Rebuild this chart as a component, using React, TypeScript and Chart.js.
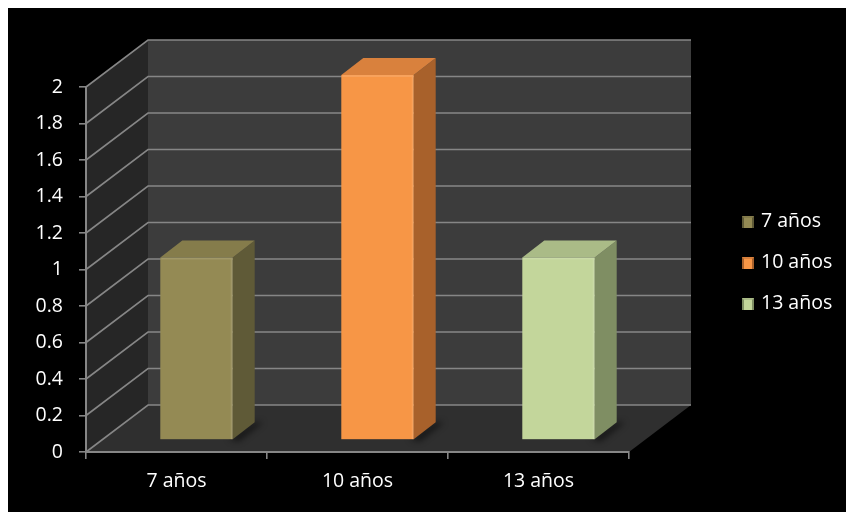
import React, { useEffect, useRef } from 'react';
import { Chart, registerables } from 'chart.js';

Chart.register(...registerables);

// Data
const categories = ['7 años', '10 años', '13 años'];
const values = [1, 2, 1];
const yTickLabels = ['0', '0.2', '0.4', '0.6', '0.8', '1', '1.2', '1.4', '1.6', '1.8', '2'];
const yMax = 2;
const yStep = 0.2;

// Bar face colours (front, top, side)
const frontColors = ['#948a54', '#f79646', '#c3d69b'];
const topColors = ['#857c4b', '#d9813d', '#aabb87'];
const sideColors = ['#5f5a37', '#a8612b', '#7f8e63'];

const FONT = '"Open Sans", "Noto Sans", sans-serif';
const FONT_SIZE = 19.5;
const GRID = '#868686';

// Oblique projection of the box around the plot
const WALL_DX = 62;
const WALL_DY = 47;
// Offset of the bar row into the box, and bar depth
const BAR_DX = 20;
const BAR_DY = 12;
const BAR_DEPTH_X = 22;
const BAR_DEPTH_Y = 17;

function poly(ctx: CanvasRenderingContext2D, pts: number[][], fill: string) {
  ctx.beginPath();
  ctx.moveTo(pts[0][0], pts[0][1]);
  for (let i = 1; i < pts.length; i++) ctx.lineTo(pts[i][0], pts[i][1]);
  ctx.closePath();
  ctx.fillStyle = fill;
  ctx.fill();
}

const boxWalls = {
  id: 'boxWalls',
  beforeDraw(chart: any) {
    const { ctx, chartArea: a, scales } = chart;
    const y = scales.y;
    ctx.save();
    ctx.fillStyle = '#000000';
    ctx.fillRect(0, 0, chart.width, chart.height);

    const top = y.getPixelForValue(yMax);
    const bottom = y.getPixelForValue(0);

    // side wall
    poly(ctx, [[a.left, top], [a.left + WALL_DX, top - WALL_DY], [a.left + WALL_DX, bottom - WALL_DY], [a.left, bottom]], '#262626');
    // back wall
    ctx.fillStyle = '#3c3c3c';
    ctx.fillRect(a.left + WALL_DX, top - WALL_DY, a.right - a.left, bottom - top);
    // floor
    poly(ctx, [[a.left, bottom], [a.right, bottom], [a.right + WALL_DX, bottom - WALL_DY], [a.left + WALL_DX, bottom - WALL_DY]], '#2f2f2f');

    // gridlines on side and back walls
    ctx.strokeStyle = GRID;
    ctx.lineWidth = 1.6;
    y.ticks.forEach((t: any) => {
      const py = y.getPixelForValue(t.value);
      ctx.beginPath();
      ctx.moveTo(a.left, py);
      ctx.lineTo(a.left + WALL_DX, py - WALL_DY);
      ctx.lineTo(a.right + WALL_DX, py - WALL_DY);
      ctx.stroke();
    });
    ctx.restore();
  },
};

const boxBars = {
  id: 'boxBars',
  afterDatasetsDraw(chart: any) {
    const { ctx } = chart;
    const meta = chart.getDatasetMeta(0);
    ctx.save();
    meta.data.forEach((el: any, i: number) => {
      const p = el.getProps(['x', 'y', 'base', 'width'], true);
      const l = p.x - p.width / 2 + BAR_DX;
      const r = p.x + p.width / 2 + BAR_DX;
      const t = p.y - BAR_DY;
      const b = p.base - BAR_DY;

      // soft shadow on the floor
      ctx.save();
      ctx.filter = 'blur(3px)';
      poly(ctx, [[r - 4, b], [r + BAR_DEPTH_X, b - BAR_DEPTH_Y], [r + BAR_DEPTH_X + 8, b - BAR_DEPTH_Y], [r + 6, b + 2]], 'rgba(0,0,0,0.55)');
      ctx.restore();

      // side face
      poly(ctx, [[r, t], [r + BAR_DEPTH_X, t - BAR_DEPTH_Y], [r + BAR_DEPTH_X, b - BAR_DEPTH_Y], [r, b]], sideColors[i]);
      // top face
      poly(ctx, [[l, t], [l + BAR_DEPTH_X, t - BAR_DEPTH_Y], [r + BAR_DEPTH_X, t - BAR_DEPTH_Y], [r, t]], topColors[i]);
      // front face
      ctx.fillStyle = frontColors[i];
      ctx.fillRect(l, t, r - l, b - t);
      // faint bevel highlight along the front edges
      ctx.strokeStyle = 'rgba(255,255,255,0.12)';
      ctx.lineWidth = 2;
      ctx.beginPath();
      ctx.moveTo(l + 1, t + 1);
      ctx.lineTo(r - 1, t + 1);
      ctx.lineTo(r - 1, b);
      ctx.stroke();
    });
    ctx.restore();
  },
};

const sideLegend = {
  id: 'sideLegend',
  afterDraw(chart: any) {
    const { ctx } = chart;
    const labels: string[] = chart.data.labels;
    const x = 734;
    const y0 = 214;
    const gap = 41;
    ctx.save();
    labels.forEach((lab, i) => {
      const cy = y0 + i * gap;
      // marker
      ctx.fillStyle = sideColors[i];
      ctx.fillRect(x, cy - 6, 12, 12);
      poly(ctx, [[x, cy - 6], [x + 12, cy - 6], [x + 10, cy - 4], [x + 2, cy - 4]], topColors[i]);
      ctx.fillStyle = frontColors[i];
      ctx.fillRect(x + 2, cy - 4, 8, 10);
      // text
      ctx.fillStyle = '#ffffff';
      ctx.font = `${FONT_SIZE}px ${FONT}`;
      ctx.textAlign = 'left';
      ctx.textBaseline = 'middle';
      ctx.fillText(lab, x + 19, cy - 1);
    });
    ctx.restore();
  },
};

export default function App() {
  const ref = useRef<HTMLCanvasElement | null>(null);

  useEffect(() => {
    const canvas = ref.current;
    if (!canvas) return;
    const chart = new Chart(canvas, {
      type: 'bar',
      data: {
        labels: categories,
        datasets: [
          {
            label: 'años',
            data: values,
            backgroundColor: 'rgba(0,0,0,0)',
            borderWidth: 0,
            barPercentage: 0.8,
            categoryPercentage: 0.5,
          },
        ],
      },
      options: {
        responsive: false,
        animation: false,
        devicePixelRatio: 1,
        layout: { padding: { top: 79, right: 217, left: 0, bottom: 0 } },
        plugins: {
          legend: { display: false },
          tooltip: { enabled: false },
        },
        scales: {
          x: {
            afterFit: (s: any) => {
              s.height = 60;
            },
            grid: {
              display: true,
              drawOnChartArea: false,
              drawTicks: true,
              tickLength: 7,
              color: GRID,
              lineWidth: 1.6,
            },
            border: { display: true, color: GRID, width: 2 },
            ticks: {
              color: '#ffffff',
              padding: 11,
              font: { family: FONT, size: FONT_SIZE },
            },
          },
          y: {
            min: 0,
            max: yMax,
            afterFit: (s: any) => {
              s.width = 78;
            },
            grid: {
              display: true,
              drawOnChartArea: false,
              drawTicks: true,
              tickLength: 7,
              color: GRID,
              lineWidth: 1.6,
            },
            border: { display: true, color: GRID, width: 2 },
            ticks: {
              stepSize: yStep,
              color: '#ffffff',
              padding: 16,
              font: { family: FONT, size: FONT_SIZE },
              callback: (_v: any, i: number) => yTickLabels[i],
            },
          },
        },
      },
      plugins: [boxWalls, boxBars, sideLegend],
    });
    return () => chart.destroy();
  }, []);

  // black panel pinned to the window, running out to the right and bottom edges
  return (
    <div
      style={{
        position: 'fixed',
        left: 8,
        top: 8,
        right: 0,
        bottom: 0,
        background: '#000000',
        overflow: 'hidden',
      }}
    >
      <canvas ref={ref} width={838} height={504} style={{ display: 'block' }} />
    </div>
  );
}
